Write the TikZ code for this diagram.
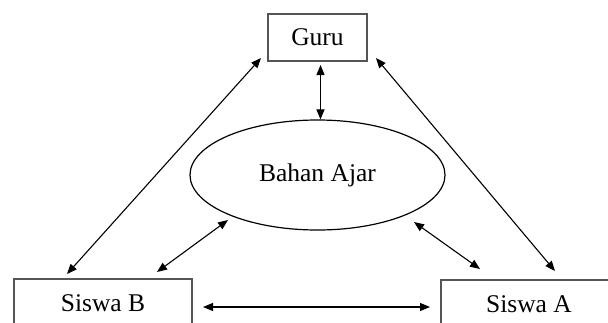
\documentclass[tikz,border=0pt]{standalone}
\usepackage{fontspec}
\setmainfont{Liberation Serif}
\usetikzlibrary{shapes.geometric,arrows.meta,calc}
\definecolor{boxgray}{RGB}{85,85,85}
\begin{document}
\begin{tikzpicture}[x=1pt,y=-1pt,
  box/.style={draw=boxgray,line width=2pt,rectangle,inner sep=0pt,font=\fontsize{25.5}{30}\selectfont},
  oval/.style={draw=black,line width=1.2pt,ellipse,inner sep=0pt,font=\fontsize{25.5}{30}\selectfont},
  arr/.style={line width=1.1pt,{Triangle[length=10pt,width=8pt]}-{Triangle[length=10pt,width=8pt]}}]
\useasboundingbox (0,0) rectangle (608,322);
\clip (0,0) rectangle (608,322);
\node[box,minimum width=99pt,minimum height=47pt] (guru) at (317.5,37.5) {Guru};
\node[oval,minimum width=255pt,minimum height=110pt] (ba) at (317.5,175) {Bahan Ajar};
\node[box,minimum width=178pt,minimum height=48pt] (sb) at (103,303) {Siswa B};
\node[box,minimum width=176pt,minimum height=48pt] (sa) at (529,304) {Siswa A};
\draw[arr] ($(guru.south)+(3,3)$) -- ($(ba.north)+(3,0)$);
\draw[arr] ($(guru.south west)+(-6,-4)$) -- ($(sb.north west)+(54,-4)$);
\draw[arr] ($(guru.south east)+(8,-4)$) -- ($(sa.north west)+(115,-8)$);
\draw[arr] ($(ba.center)+(-89.5,45)$) -- ($(sb.north west)+(144,-6)$);
\draw[arr] ($(ba.center)+(96.5,47)$) -- ($(sa.north west)+(40,-10)$);
\draw[arr] ($(sb.east)+(10,4)$) -- ($(sa.west)+(-10,3)$);
\end{tikzpicture}
\end{document}
